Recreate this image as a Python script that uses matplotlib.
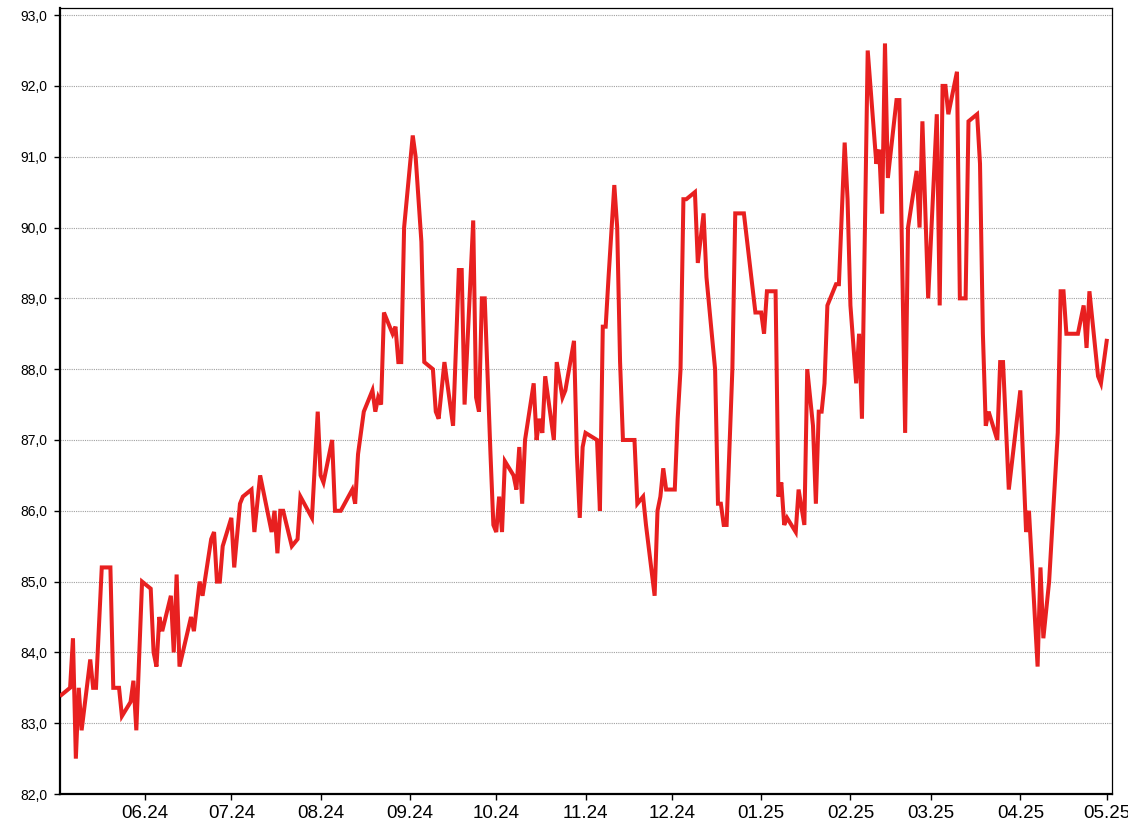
import matplotlib
matplotlib.use("Agg")
import matplotlib.pyplot as plt
import matplotlib.dates as mdates
from matplotlib.ticker import FixedLocator, FuncFormatter
import pandas as pd

# Data.
dates = [
    "2024-05-03", "2024-05-06", "2024-05-07", "2024-05-08", "2024-05-09", "2024-05-10",
    "2024-05-13", "2024-05-14", "2024-05-15", "2024-05-17", "2024-05-20", "2024-05-21",
    "2024-05-23", "2024-05-24", "2024-05-27", "2024-05-28", "2024-05-29", "2024-05-31",
    "2024-06-03", "2024-06-04", "2024-06-05", "2024-06-06", "2024-06-07", "2024-06-10",
    "2024-06-11", "2024-06-12", "2024-06-13", "2024-06-17", "2024-06-18", "2024-06-20",
    "2024-06-21", "2024-06-24", "2024-06-25", "2024-06-26", "2024-06-27", "2024-06-28",
    "2024-07-01", "2024-07-02", "2024-07-04", "2024-07-05", "2024-07-08", "2024-07-09",
    "2024-07-11", "2024-07-15", "2024-07-16", "2024-07-17", "2024-07-18", "2024-07-19",
    "2024-07-22", "2024-07-24", "2024-07-25", "2024-07-29", "2024-07-31", "2024-08-01",
    "2024-08-02", "2024-08-05", "2024-08-06", "2024-08-08", "2024-08-12", "2024-08-13",
    "2024-08-14", "2024-08-16", "2024-08-19", "2024-08-20", "2024-08-21", "2024-08-22",
    "2024-08-23", "2024-08-26", "2024-08-27", "2024-08-28", "2024-08-29", "2024-08-30",
    "2024-09-02", "2024-09-03", "2024-09-05", "2024-09-06", "2024-09-09", "2024-09-10",
    "2024-09-11", "2024-09-13", "2024-09-16", "2024-09-18", "2024-09-19", "2024-09-20",
    "2024-09-23", "2024-09-24", "2024-09-25", "2024-09-26", "2024-09-27", "2024-09-29",
    "2024-09-30", "2024-10-01", "2024-10-02", "2024-10-03", "2024-10-04", "2024-10-07",
    "2024-10-08", "2024-10-09", "2024-10-10", "2024-10-11", "2024-10-14", "2024-10-15",
    "2024-10-16", "2024-10-17", "2024-10-18", "2024-10-21", "2024-10-22", "2024-10-24",
    "2024-10-25", "2024-10-28", "2024-10-29", "2024-10-30", "2024-10-31", "2024-11-01",
    "2024-11-05", "2024-11-06", "2024-11-07", "2024-11-08", "2024-11-09", "2024-11-11",
    "2024-11-12", "2024-11-13", "2024-11-14", "2024-11-18", "2024-11-19", "2024-11-21",
    "2024-11-22", "2024-11-25", "2024-11-26", "2024-11-27", "2024-11-28", "2024-11-29",
    "2024-12-02", "2024-12-03", "2024-12-04", "2024-12-05", "2024-12-06", "2024-12-09",
    "2024-12-10", "2024-12-12", "2024-12-13", "2024-12-16", "2024-12-17", "2024-12-18",
    "2024-12-19", "2024-12-20", "2024-12-22", "2024-12-23", "2024-12-26", "2024-12-30",
    "2025-01-01", "2025-01-02", "2025-01-03", "2025-01-06", "2025-01-07", "2025-01-08",
    "2025-01-09", "2025-01-10", "2025-01-13", "2025-01-14", "2025-01-16", "2025-01-17",
    "2025-01-19", "2025-01-20", "2025-01-21", "2025-01-22", "2025-01-23", "2025-01-24",
    "2025-01-27", "2025-01-28", "2025-01-30", "2025-01-31", "2025-02-01", "2025-02-03",
    "2025-02-04", "2025-02-05", "2025-02-07", "2025-02-10", "2025-02-11", "2025-02-12",
    "2025-02-13", "2025-02-14", "2025-02-17", "2025-02-18", "2025-02-20", "2025-02-21",
    "2025-02-24", "2025-02-25", "2025-02-26", "2025-02-28", "2025-03-03", "2025-03-04",
    "2025-03-05", "2025-03-06", "2025-03-07", "2025-03-10", "2025-03-11", "2025-03-13",
    "2025-03-14", "2025-03-17", "2025-03-18", "2025-03-19", "2025-03-20", "2025-03-21",
    "2025-03-24", "2025-03-25", "2025-03-26", "2025-03-28", "2025-04-01", "2025-04-03",
    "2025-04-04", "2025-04-07", "2025-04-08", "2025-04-09", "2025-04-11", "2025-04-14",
    "2025-04-15", "2025-04-16", "2025-04-17", "2025-04-21", "2025-04-23", "2025-04-24",
    "2025-04-25", "2025-04-28", "2025-04-29", "2025-05-01",
]
values = [
    83.4, 83.5, 84.2, 82.5, 83.5, 82.9,
    83.9, 83.5, 83.5, 85.2, 85.2, 83.5,
    83.5, 83.1, 83.3, 83.6, 82.9, 85.0,
    84.9, 84.0, 83.8, 84.5, 84.3, 84.8,
    84.0, 85.1, 83.8, 84.5, 84.3, 85.0,
    84.8, 85.6, 85.7, 85.0, 85.0, 85.5,
    85.9, 85.2, 86.1, 86.2, 86.3, 85.7,
    86.5, 85.7, 86.0, 85.4, 86.0, 86.0,
    85.5, 85.6, 86.2, 85.9, 87.4, 86.5,
    86.4, 87.0, 86.0, 86.0, 86.3, 86.1,
    86.8, 87.4, 87.7, 87.4, 87.6, 87.5,
    88.8, 88.5, 88.6, 88.1, 88.1, 90.0,
    91.3, 91.0, 89.8, 88.1, 88.0, 87.4,
    87.3, 88.1, 87.2, 89.4, 89.4, 87.5,
    90.1, 87.6, 87.4, 89.0, 89.0, 86.8,
    85.8, 85.7, 86.2, 85.7, 86.7, 86.5,
    86.3, 86.9, 86.1, 87.0, 87.8, 87.0,
    87.3, 87.1, 87.9, 87.0, 88.1, 87.6,
    87.7, 88.4, 86.8, 85.9, 86.9, 87.1,
    87.0, 86.0, 88.6, 88.6, 89.3, 90.6,
    90.0, 88.1, 87.0, 87.0, 86.1, 86.2,
    85.8, 84.8, 86.0, 86.2, 86.6, 86.3,
    86.3, 87.3, 88.0, 90.4, 90.4, 90.5,
    89.5, 90.2, 89.3, 88.0, 86.1, 86.1,
    85.8, 85.8, 88.0, 90.2, 90.2, 88.8,
    88.8, 88.5, 89.1, 89.1, 86.2, 86.4,
    85.8, 85.9, 85.7, 86.3, 85.8, 88.0,
    87.2, 86.1, 87.4, 87.4, 87.8, 88.9,
    89.2, 89.2, 91.2, 90.4, 88.9, 87.8,
    88.5, 87.3, 92.5, 90.9, 91.1, 90.2,
    92.6, 90.7, 91.8, 91.8, 87.1, 90.0,
    90.8, 90.0, 91.5, 89.0, 91.6, 88.9,
    92.0, 92.0, 91.6, 92.2, 89.0, 89.0,
    91.5, 91.6, 90.9, 88.5, 87.2, 87.4,
    87.0, 88.1, 88.1, 86.3, 87.7, 85.7,
    86.0, 83.8, 85.2, 84.2, 85.0, 87.1,
    89.1, 89.1, 88.5, 88.5, 88.9, 88.3,
    89.1, 87.9, 87.8, 88.4,
]
y_ticks = [82, 83, 84, 85, 86, 87, 88, 89, 90, 91, 92, 93]

plt.rcParams["font.family"] = ["Liberation Sans", "DejaVu Sans"]

x = pd.to_datetime(dates)

# Figure and axes placed like the reference.
fig = plt.figure(figsize=(11.28, 8.36), dpi=100)
ax = fig.add_axes([0.0532, 0.0502, 0.9326, 0.9402])

ax.plot(x, values, color="#e82020", linewidth=2.9, solid_joinstyle="miter", zorder=3)

# Limits.
ax.set_xlim(pd.Timestamp("2024-05-02 12:00"), pd.Timestamp("2025-05-02 20:00"))
ax.set_ylim(82.0, 93.1)

# Y axis: comma decimals, dotted grid.
ax.yaxis.set_major_locator(FixedLocator(y_ticks))
ax.yaxis.set_major_formatter(FuncFormatter(lambda v, _: f"{v:.1f}".replace(".", ",")))
ax.yaxis.grid(True, linestyle=(0, (1, 1)), color="#a0a0a0", linewidth=0.8)
ax.set_axisbelow(True)

# X axis: one tick per month.
ax.xaxis.set_major_locator(mdates.MonthLocator())
ax.xaxis.set_major_formatter(mdates.DateFormatter("%m.%y"))

ax.tick_params(axis="y", labelsize=10, length=4, width=1, pad=5, colors="#000000")
ax.tick_params(axis="x", labelsize=13.5, length=4, width=1, pad=4, colors="#000000")

# Frame: heavier left and bottom.
ax.spines["left"].set_linewidth(1.6)
ax.spines["bottom"].set_linewidth(1.6)
ax.spines["top"].set_linewidth(0.9)
ax.spines["right"].set_linewidth(0.9)

fig.savefig("out.png", dpi=100)
